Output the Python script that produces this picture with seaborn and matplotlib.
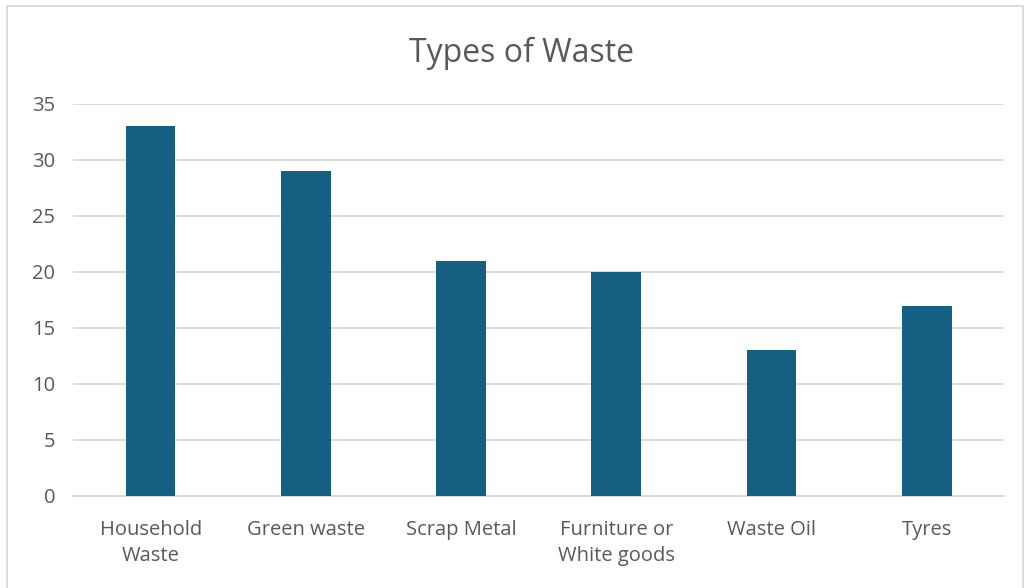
import matplotlib
matplotlib.use("Agg")
import matplotlib.pyplot as plt
import seaborn as sns
import pandas as pd
from matplotlib.patches import Rectangle

categories = ["Household\nWaste", "Green waste", "Scrap Metal",
              "Furniture or\nWhite goods", "Waste Oil", "Tyres"]
values = [33, 29, 21, 20, 13, 17]
yticks = [0, 5, 10, 15, 20, 25, 30, 35]

sns.set_theme(style="white")
plt.rcParams["font.family"] = ["Open Sans", "DejaVu Sans"]

df = pd.DataFrame({"category": categories, "value": values})

fig = plt.figure(figsize=(10.29, 5.88), dpi=100)
ax = fig.add_axes([0.071, 0.1565, 0.905, 0.6667])

sns.barplot(data=df, x="category", y="value", color="#156082",
            width=0.32, saturation=1, ax=ax, zorder=3, linewidth=0)

ax.set_ylim(0, 35)
ax.set_yticks(yticks)
ax.set_xlim(-0.5, len(categories) - 0.5)
ax.yaxis.grid(True, color="#d9d9d9", linewidth=1.3, zorder=0)
ax.xaxis.grid(False)
for s in ["top", "right", "left"]:
    ax.spines[s].set_visible(False)
ax.spines["bottom"].set_color("#d9d9d9")
ax.spines["bottom"].set_linewidth(1.3)
ax.set_xlabel("")
ax.set_ylabel("")
ax.tick_params(axis="both", length=0, labelsize=14.5, labelcolor="#595959")
ax.tick_params(axis="y", pad=13)
ax.tick_params(axis="x", pad=17)
for lbl in ax.get_xticklabels():
    lbl.set_linespacing(1.45)

fig.text(0.507, 0.91, "Types of Waste", ha="center", va="center",
         fontsize=23, color="#595959",
         family=["Liberation Sans Narrow", "Open Sans", "DejaVu Sans"])

fig.patches.append(Rectangle((7 / 1029, -0.01), 1016 / 1029, 1 - 6 / 588 + 0.01,
                             transform=fig.transFigure, fill=False,
                             edgecolor="#d9d9d9", linewidth=1.3))

fig.savefig("out.png", dpi=100, facecolor="white")
